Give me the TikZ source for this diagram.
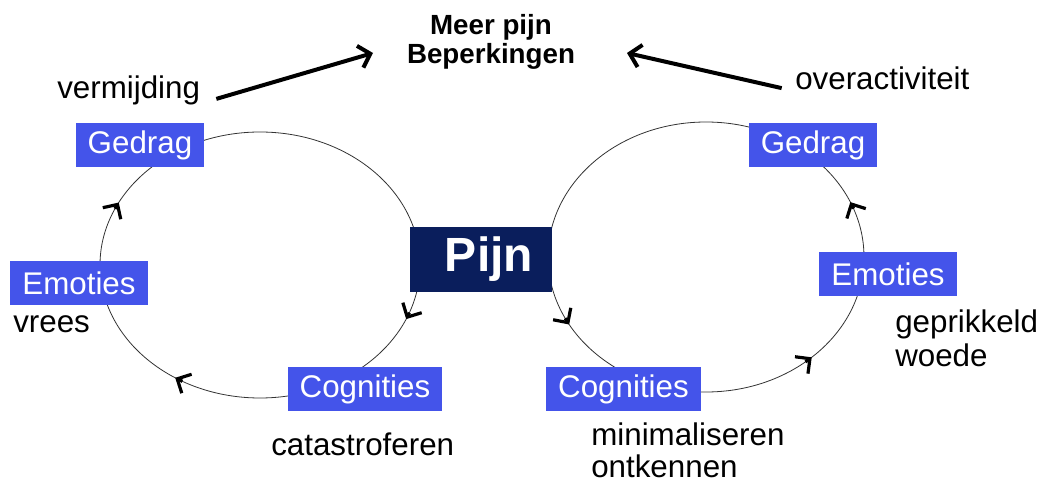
\documentclass[tikz,border=0pt]{standalone}
\usepackage{fontspec}
\setmainfont{Liberation Sans}
\usetikzlibrary{arrows.meta}
\definecolor{boxblue}{RGB}{68,84,234}
\definecolor{pijnblue}{RGB}{10,30,92}
\tikzset{
  stepbox/.style={fill=boxblue, text=white, inner xsep=9pt, minimum height=33pt,
    font=\fontsize{23.5}{28}\selectfont},
  textlabel/.style={anchor=base west, inner sep=0pt, font=\fontsize{23.5}{28}\selectfont},
  loopline/.style={line width=0.6pt, draw=black!80},
  looptip/.style={black, line width=2.4pt, -{Straight Barb[length=8pt,width=16pt]}},
  bigarrow/.style={line width=3pt, -{Straight Barb[length=8pt,width=17pt]}}
}

\begin{document}
\begin{tikzpicture}[x=0.75pt, y=-0.75pt]
  \useasboundingbox (0,0) rectangle (1043,484);

  % Left cycle (clockwise on screen)
  \coordinate (lc) at (260,265);
  \draw[loopline] (lc) ellipse [x radius=160, y radius=133];
  \foreach \a in {24,122,208}
    \draw[looptip] (lc) ++(\a-3:160 and 133) arc[start angle=\a-3, end angle=\a, x radius=160, y radius=133];

  % Right cycle (anticlockwise on screen)
  \coordinate (rc) at (706,257);
  \draw[loopline] (rc) ellipse [x radius=158, y radius=135];
  \foreach \a in {150,48,-24}
    \draw[looptip] (rc) ++(\a+3:158 and 135) arc[start angle=\a+3, end angle=\a, x radius=158, y radius=135];

  % Centre box
  \node[fill=pijnblue, text=white, minimum width=106.5pt, minimum height=48.75pt,
    font=\fontsize{36}{40}\selectfont\bfseries] (pijn) at (481,259.5) {\hspace{12pt}Pijn};

  % Left boxes
  \node[stepbox] (lgedrag) at (140,145) {Gedrag};
  \node[stepbox] (lemoties) at (79,283.5) {Emoties};
  \node[stepbox] (lcognities) at (365,389) {Cognities};

  % Right boxes
  \node[stepbox] (rgedrag) at (813,145) {Gedrag};
  \node[stepbox] (remoties) at (888,274.5) {Emoties};
  \node[stepbox] (rcognities) at (623.5,389) {Cognities};

  % Outcome
  \node[align=center, inner sep=0pt, font=\fontsize{20.8}{21.75}\selectfont\bfseries,
    anchor=base] (meer) at (491,64) {Meer pijn\\Beperkingen};

  % Labels
  \node[textlabel] (vermijding) at (57,99) {vermijding};
  \node[textlabel] (overact) at (795,90) {overactiviteit};
  \node[textlabel] (vrees) at (13,333) {vrees};
  \node[textlabel] (catastr) at (271,456) {catastroferen};
  \node[textlabel] (geprik) at (895,333) {geprikkeld};
  \node[textlabel] (woede) at (895,367) {woede};
  \node[textlabel] (minimal) at (591,446) {minimaliseren};
  \node[textlabel] (ontkennen) at (591,478) {ontkennen};

  % Arrows to outcome
  \coordinate (lend) at (373,53);
  \coordinate (rend) at (627,53);
  \draw[bigarrow] ([xshift=12pt,yshift=-6pt]vermijding.east) -- (lend);
  \draw[bigarrow] ([xshift=-10pt,yshift=-7pt]overact.west) -- (rend);
\end{tikzpicture}
\end{document}
